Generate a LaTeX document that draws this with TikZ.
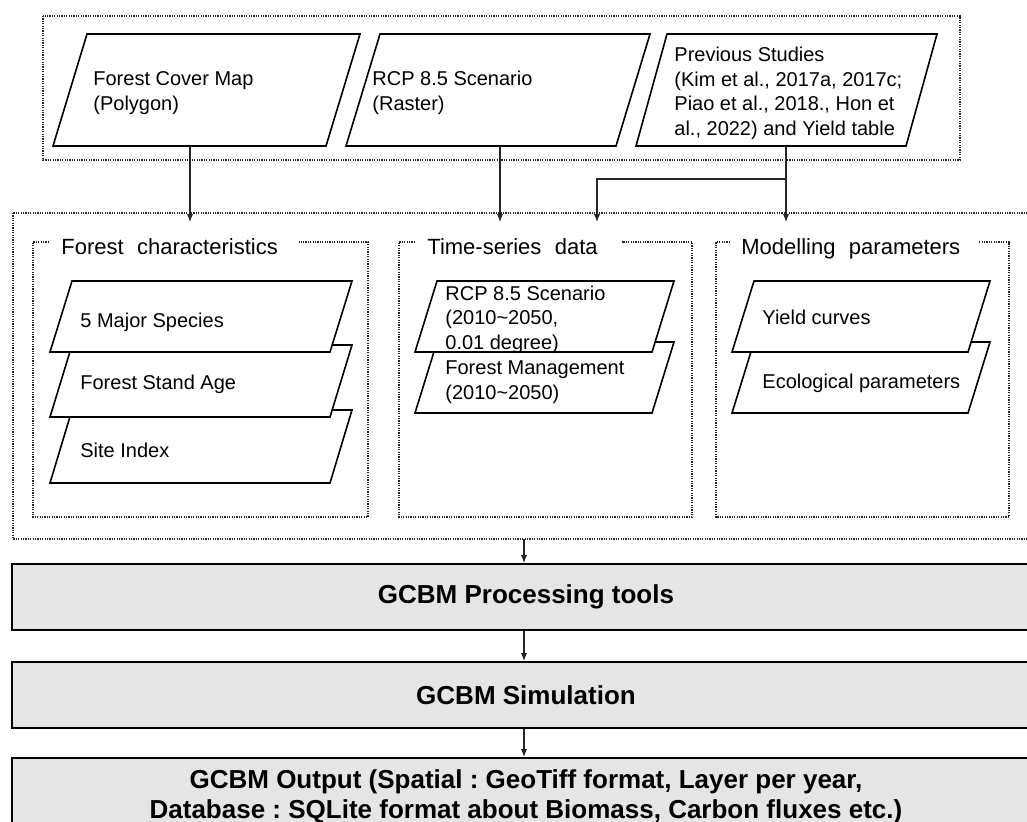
\documentclass[tikz,border=0pt]{standalone}
\usepackage{fontspec}
\setmainfont{Liberation Sans}
\usetikzlibrary{arrows.meta}
\frenchspacing
\newcommand{\pgram}[5]{% bottom-left x, top y, width, bottom y, slant
  \draw[pbox] ({#1+#5},#2) -- ({#1+#5+#3},#2) -- ({#1+#3},#4) -- (#1,#4) -- cycle;}
\newcommand{\tld}{{\char"7E}}
\begin{document}
\begin{tikzpicture}[x=0.5pt,y=-0.5pt,
  pbox/.style={draw=black, fill=white, line width=0.8pt, line join=miter},
  dotbox/.style={draw=black!85, line width=0.6pt, dash pattern=on 0.6pt off 0.6pt},
  ptext/.style={anchor=base west, align=left, inner sep=0pt, font=\fontsize{10}{12.2}\selectfont},
  ttext/.style={anchor=base west, inner sep=0pt, font=\fontsize{11}{13}\selectfont},
  gbox/.style={draw=black, line width=1pt, fill=black!10, inner sep=0pt, align=center,
    minimum width=514pt, font=\fontsize{13}{15}\selectfont\bfseries},
  arr/.style={draw=black!85, line width=0.6pt, -{Latex[length=4pt,width=3.2pt]}},
  lin/.style={draw=black!85, line width=0.6pt}
]
\useasboundingbox (0,0) rectangle (1027,821);
\clip (0,0) rectangle (1027,821);

% ---------- top input group ----------
\draw[dotbox] (43,16) rectangle (960,160);
\pgram{53}{34}{273}{146}{34}
\pgram{346}{34}{270}{146}{34}
\pgram{636}{34}{270}{146}{31}
\node[ptext] (fcm) at (93,110) {Forest Cover Map\\(Polygon)};
\node[ptext] (rcp) at (372,110) {RCP 8.5 Scenario\\(Raster)};
\node[ptext] (prev) at (674,135) {Previous Studies\\(Kim et al., 2017a, 2017c;\\Piao et al., 2018., Hon et\\al., 2022) and Yield table};
\coordinate (fcmB) at (190,146);
\coordinate (rcpB) at (500,146);
\coordinate (prevB) at (786,146);
\coordinate (branch) at (786,179);
\coordinate (fcT) at (190,222);
\coordinate (tsT) at (500,222);
\coordinate (ts2T) at (597,222);
\coordinate (mpT) at (786,222);

% ---------- middle group ----------
\draw[dotbox] (13,213) rectangle (1045,539);
% Forest characteristics
\draw[dotbox] (49,242) -- (33,242) -- (33,517) -- (368,517) -- (368,242) -- (299,242);
\node[ttext] (fctitle) at (61,254) {Forest\,\, characteristics};
\pgram{50}{410}{280}{483}{22}
\pgram{50}{345}{280}{417}{22}
\pgram{50}{281}{280}{352}{22}
\node[ptext] (sp) at (80,327) {5 Major Species};
\node[ptext] (age) at (80,389) {Forest Stand Age};
\node[ptext] (si) at (80,457) {Site Index};
% Time-series data
\draw[dotbox] (415,242) -- (399,242) -- (399,517) -- (692,517) -- (692,242) -- (622,242);
\node[ttext] (tstitle) at (427,254) {Time-series\,\, data};
\pgram{415}{342}{237}{413}{22}
\pgram{415}{281}{237}{352}{22}
\node[ptext] (rcp2) at (445,349) {RCP 8.5 Scenario\\(2010\tld2050,\\0.01 degree)};
\node[ptext] (fm) at (445,399) {Forest Management\\(2010\tld2050)};
% Modelling parameters
\draw[dotbox] (730,242) -- (716,242) -- (716,517) -- (1009,517) -- (1009,242) -- (979,242);
\node[ttext] (mptitle) at (741,254) {Modelling\,\, parameters};
\pgram{732}{342}{236}{413}{22}
\pgram{732}{281}{236}{352}{22}
\node[ptext] (yc) at (762,324) {Yield curves};
\node[ptext] (eco) at (762,388) {Ecological parameters};
\coordinate (bigS) at (524,539);

% ---------- connectors top -> middle ----------
\draw[arr] (fcmB) -- (fcT);
\draw[arr] (rcpB) -- (tsT);
\draw[arr] (prevB) -- (mpT);
\draw[arr] (branch) -| (ts2T);

% ---------- bottom process boxes ----------
\node[gbox, minimum height=33pt] (proc) at (526,597) {GCBM Processing tools};
\node[gbox, minimum height=33pt] (sim) at (526,695) {GCBM Simulation};
\node[gbox, minimum height=36pt, text depth=0pt] (out) at (526,794) {GCBM Output (Spatial : GeoTiff format, Layer per year,\\Database : SQLite format about Biomass, Carbon fluxes etc.)};
\draw[arr] (bigS) -- (bigS |- proc.north);
\draw[arr] (bigS |- proc.south) -- (bigS |- sim.north);
\draw[arr] (bigS |- sim.south) -- (bigS |- out.north);
\end{tikzpicture}
\end{document}
